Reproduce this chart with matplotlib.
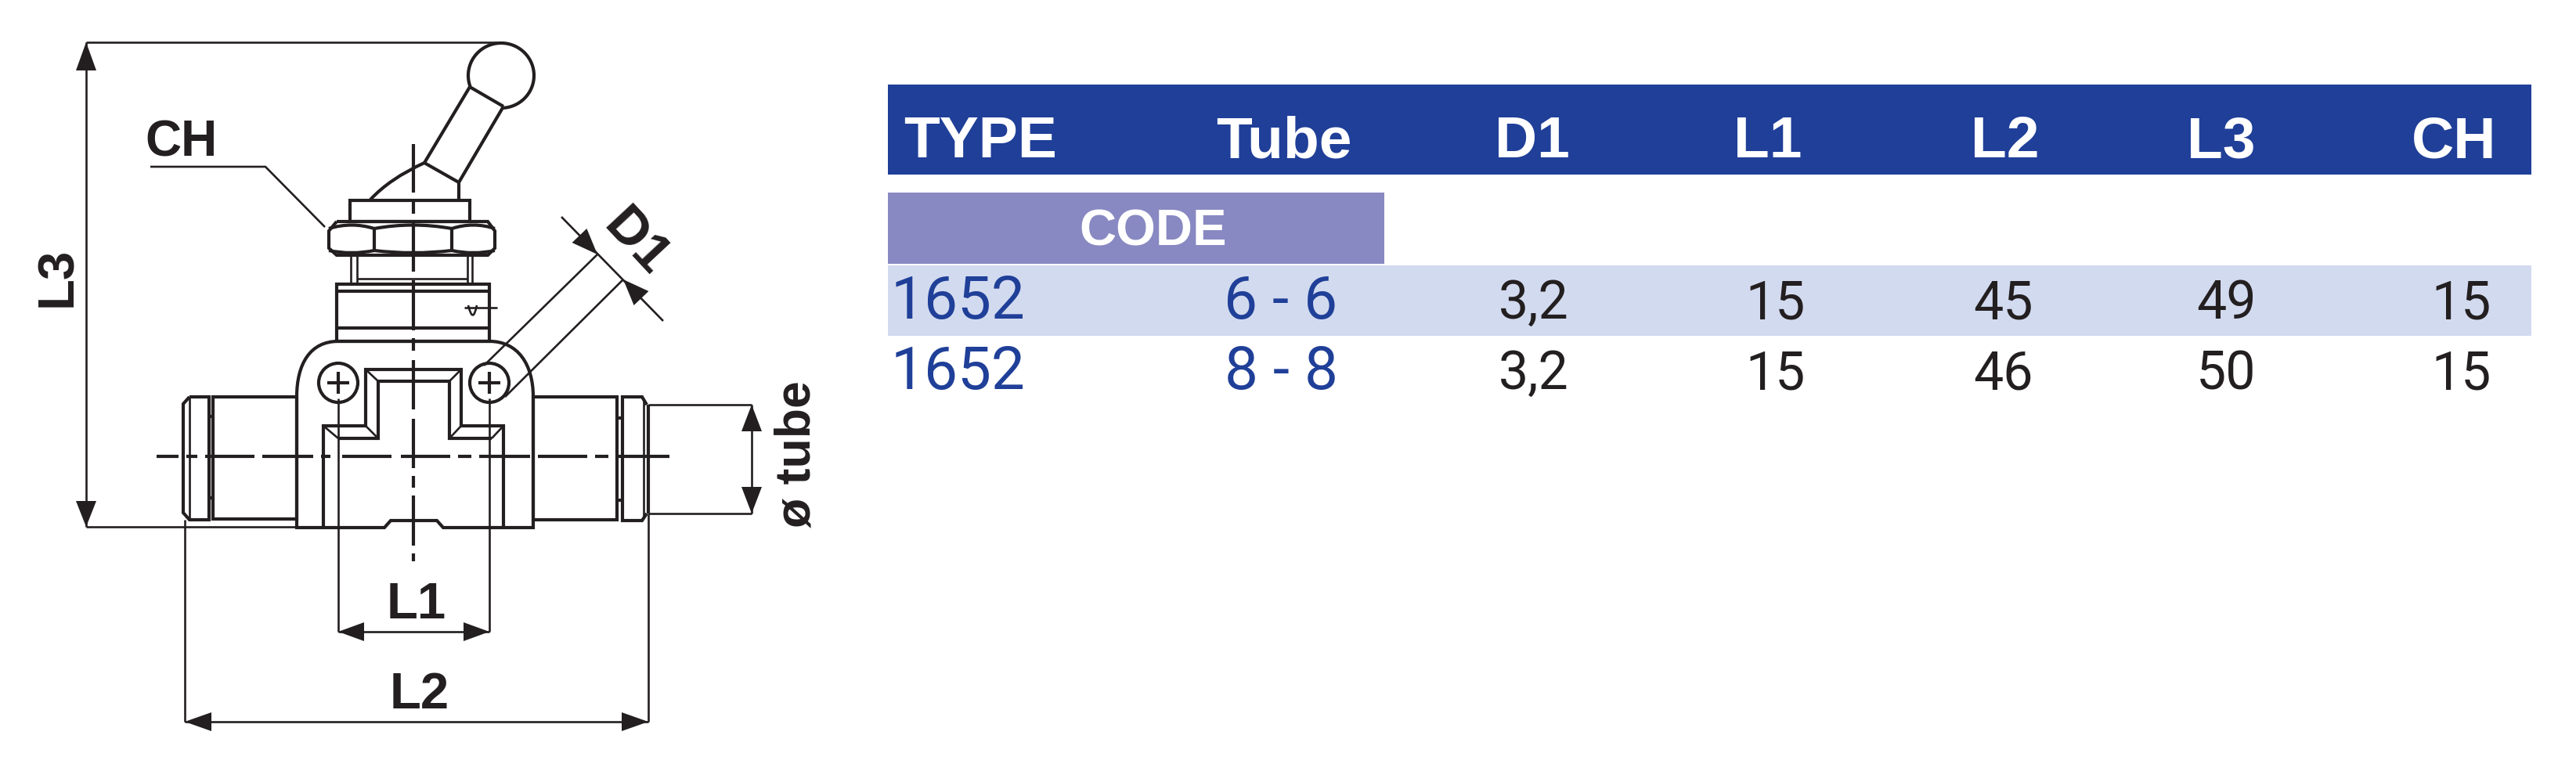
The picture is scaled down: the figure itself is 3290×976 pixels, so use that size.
import numpy as np
import matplotlib
matplotlib.use("Agg")
import matplotlib.pyplot as plt
from matplotlib.path import Path
from matplotlib.patches import PathPatch, Polygon, Rectangle, Circle

plt.rcParams['font.family'] = ['Liberation Sans', 'DejaVu Sans']

# table values
header_labels = ['TYPE', 'Tube', 'D1', 'L1', 'L2', 'L3', 'CH']
header_x = [1252, 1640, 1957, 2258, 2561, 2837, 3134]
type_codes = ['1652', '1652']
tube_sizes = ['6 - 6', '8 - 8']
d1_values = ['3,2', '3,2']
l1_values = ['15', '15']
l2_values = ['45', '46']
l3_values = ['49', '50']
ch_values = ['15', '15']
value_x = [1224, 1636, 1959, 2268, 2558, 2843, 3144]
row_baselines = [407, 497]

BLUE = '#1f3f98'
PURPLE = '#8889c2'
PALE = '#d2daef'
INK = '#231f20'
THICK = 3.0
THIN = 1.9

fig = plt.figure(figsize=(32.9, 9.76), dpi=100)
ax = fig.add_axes([0, 0, 1, 1])
ax.set_xlim(0, 3290)
ax.set_ylim(976, 0)
ax.axis('off')


def line(xs, ys, lw=THICK):
    ax.plot(xs, ys, color=INK, lw=lw, solid_capstyle='butt', solid_joinstyle='miter')


def curve(p0, ctrl, p1, lw=THICK):
    path = Path([p0, ctrl, p1], [Path.MOVETO, Path.CURVE3, Path.CURVE3])
    ax.add_patch(PathPatch(path, fill=False, ec=INK, lw=lw))


def arrow(tip, base, half):
    tip = np.array(tip, float)
    base = np.array(base, float)
    d = (tip - base) / np.hypot(*(tip - base))
    n = np.array([-d[1], d[0]]) * half
    ax.add_patch(Polygon([tip, base + n, base - n], closed=True, fc=INK, ec='none'))


def label(x, y, s, size=45, rot=0):
    ax.text(x, y, s, fontsize=size, fontweight='bold', color=INK, ha='center',
            va='center', rotation=rot, rotation_mode='anchor')


# centre lines, dash by dash
axis_h = [(200, 228), (238, 252), (262, 325), (335, 400), (410, 422), (437, 500), (512, 575),
          (585, 602), (612, 677), (687, 750), (760, 777), (787, 855)]
axis_v = [(184, 246), (258, 273), (283, 347), (358, 422), (432, 448), (460, 523), (535, 598),
          (608, 623), (633, 697), (707, 717)]
for a, b in axis_h:
    line([a, b], [583, 583])
for a, b in axis_v:
    line([528, 528], [a, b])

# handle and ball
t = np.radians(np.linspace(160, 446, 80))
line(640 + 42 * np.cos(t), 96.5 + 41.5 * np.sin(t))
line([600, 643], [111, 136])
line([600, 542], [111, 208])
line([643, 586], [136, 233])
line([542, 586, 586], [208, 233, 255])
curve((542, 208), (498, 228), (473, 255))

# flange, nut, neck, block
ax.add_patch(Rectangle((447, 256), 153, 27, fill=False, ec=INK, lw=THICK))
line([430, 623, 632, 632, 623, 430, 420, 420, 430], [283, 283, 295, 317, 326, 326, 317, 295, 283])
line([478, 478], [292, 320])
line([577, 577], [292, 320])
for x0, x1 in [(420, 478), (478, 577), (577, 632)]:
    curve((x0, 292), ((x0 + x1) / 2, 283), (x1, 292))
    curve((x0, 320), ((x0 + x1) / 2, 326), (x1, 320))
for x in [448, 456, 597, 603]:
    line([x, x], [326, 363], lw=THIN)
line([456, 597], [356, 356], lw=THIN)
ax.add_patch(Rectangle((430, 363), 195, 73, fill=False, ec=INK, lw=THICK))
line([430, 625], [372, 372])
line([430, 625], [419, 419])
line([593, 635], [393, 393], lw=THIN)
curve((598, 390), (604, 415), (609, 390), lw=THIN)

# body outline
body = Path([(379, 507), (379, 465), (396, 436), (432, 436), (625, 436), (661, 436), (681, 465),
             (681, 507), (681, 674), (566, 674), (558, 665), (499, 665), (491, 674), (379, 674),
             (379, 507)],
            [Path.MOVETO, Path.CURVE4, Path.CURVE4, Path.CURVE4, Path.LINETO, Path.CURVE4, Path.CURVE4,
             Path.CURVE4, Path.LINETO, Path.LINETO, Path.LINETO, Path.LINETO, Path.LINETO, Path.LINETO,
             Path.LINETO])
ax.add_patch(PathPatch(body, fill=False, ec=INK, lw=THICK))

# stepped window
line([413, 413, 467, 467, 589, 589, 643, 643], [674, 544, 544, 472, 472, 544, 544, 674])
line([432, 483, 483, 574, 574, 628], [560, 560, 487, 487, 560, 560])
for x0, y0, x1, y1 in [(413, 544, 432, 560), (467, 544, 483, 560), (467, 472, 483, 487),
                       (589, 472, 574, 487), (589, 544, 574, 560), (643, 544, 628, 560)]:
    line([x0, x1], [y0, y1], lw=THIN)

# screws
for cx in [432, 625]:
    ax.add_patch(Circle((cx, 489), 25, fill=False, ec=INK, lw=THICK))
    line([cx - 14, cx + 14], [489, 489])
    line([cx, cx], [475, 503])

# left fitting
ax.add_patch(Rectangle((272, 507), 107, 156, fill=False, ec=INK, lw=THICK))
line([242, 267, 267, 242, 234, 234, 242], [507, 507, 664, 664, 655, 516, 507])
line([242, 242], [507, 664], lw=THIN)
line([267, 272], [532, 532])
line([267, 272], [636, 636])

# right fitting
ax.add_patch(Rectangle((681, 507), 107, 157, fill=False, ec=INK, lw=THICK))
line([826, 820, 795, 795, 820, 826], [517, 507, 507, 665, 665, 656])
line([822, 822], [510, 662], lw=THIN)
line([828, 828], [517, 656])
line([788, 795], [534, 534])
line([788, 795], [639, 639])

# L3 dimension and CH leader
line([110, 635], [54, 54], lw=THIN)
line([110, 379], [673, 673], lw=THIN)
line([110, 110], [54, 673], lw=THIN)
arrow((110, 54), (110, 90), 13)
arrow((110, 673), (110, 640), 13)
label(74, 354, 'L3', rot=90, size=47)
line([192, 339, 415], [213, 213, 290], lw=THIN)
label(231, 182, 'CH', size=46)

# L1 and L2
for x in [432, 625]:
    line([x, x], [509, 807], lw=THIN)
line([432, 625], [807, 807], lw=THIN)
arrow((432, 807), (465, 807), 12)
arrow((625, 807), (592, 807), 12)
label(532, 773, 'L1', size=47)
line([236, 236], [664, 922], lw=THIN)
line([828, 828], [656, 922], lw=THIN)
line([236, 828], [922, 922], lw=THIN)
arrow((236, 922), (270, 922), 12)
arrow((828, 922), (794, 922), 12)
label(536, 888, 'L2', size=47)

# tube diameter
line([828, 960], [517, 517], lw=THIN)
line([828, 960], [656, 656], lw=THIN)
line([960, 960], [517, 656], lw=THIN)
arrow((960, 517), (960, 551), 13)
arrow((960, 656), (960, 622), 13)
label(1018, 580, 'ø tube', rot=90, size=45)

# D1
line([618, 763], [467, 325], lw=THIN)
line([645, 796], [507, 357], lw=THIN)
line([717, 847], [277, 410], lw=THIN)
arrow((763, 325), (740, 301), 13)
arrow((796, 357), (819, 381), 13)
label(812, 310, 'D1', rot=-47, size=50)

# table bands
ax.add_patch(Rectangle((1134, 108), 2099, 115, fc=BLUE, ec='none'))
ax.add_patch(Rectangle((1134, 246), 634, 91, fc=PURPLE, ec='none'))
ax.add_patch(Rectangle((1134, 339), 2099, 90, fc=PALE, ec='none'))

for s, x in zip(header_labels, header_x):
    ax.text(x, 201, s, fontsize=54, fontweight='bold', color='white', ha='center', va='baseline')
ax.text(1473, 314, 'CODE', fontsize=47, fontweight='bold', color='white', ha='center', va='baseline')

columns = [type_codes, tube_sizes, d1_values, l1_values, l2_values, l3_values, ch_values]
for col, (vals, x) in enumerate(zip(columns, value_x)):
    for val, y in zip(vals, row_baselines):
        if col < 2:
            ax.text(x, y, val, fontsize=55, color=BLUE, ha='center', va='baseline', family='Roboto')
        else:
            ax.text(x, y, val, fontsize=49, color=INK, ha='center', va='baseline', family='Roboto')

fig.savefig('out.png', dpi=100, facecolor='white')
